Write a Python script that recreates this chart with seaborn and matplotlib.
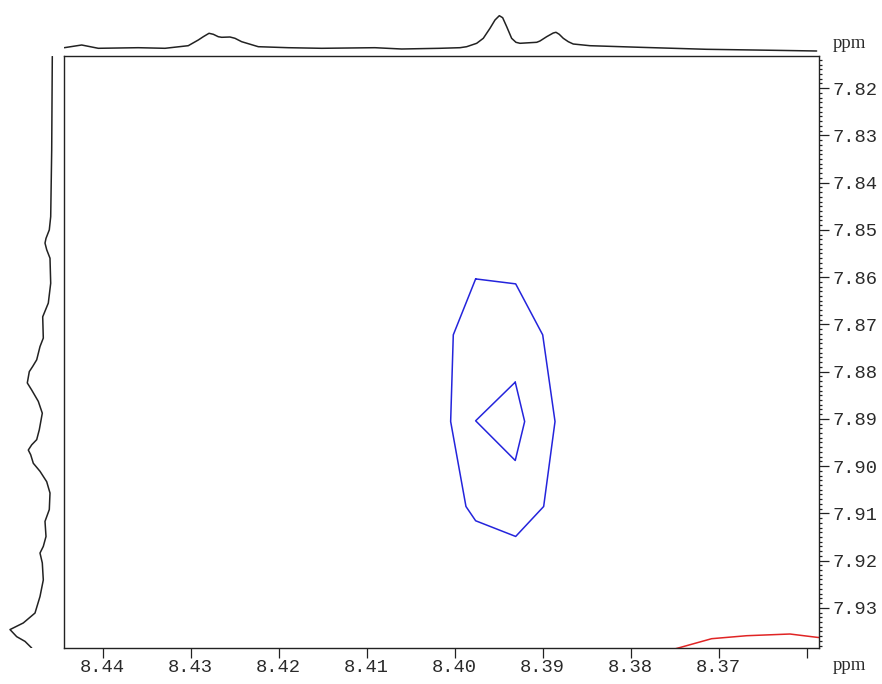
import matplotlib
matplotlib.use("Agg")
import matplotlib.pyplot as plt
from matplotlib.ticker import MultipleLocator, FuncFormatter, FormatStrFormatter
import seaborn as sns

# 1D projection along F2 (top trace): chemical shift (ppm) and intensity (a.u.)
top_ppm = [8.44435, 8.44237, 8.44048, 8.43594, 8.43290, 8.43026, 8.42912,
           8.42855, 8.42790, 8.42741, 8.42685, 8.42646, 8.42552, 8.42495,
           8.42419, 8.42230, 8.41889, 8.41510, 8.40904, 8.40601, 8.40165,
           8.39938, 8.39862, 8.39748, 8.39673, 8.39597, 8.39540, 8.39491,
           8.39453, 8.39407, 8.39351, 8.39302, 8.39256, 8.39066, 8.39029,
           8.38953, 8.38878, 8.38847, 8.38810, 8.38764, 8.38707, 8.38651,
           8.38461, 8.37893, 8.37135, 8.36378, 8.35885]
top_int = [7.3, 10.0, 6.7, 7.3, 6.7, 9.3, 15.0,
           18.3, 21.7, 20.7, 18.3, 17.7, 18.0, 16.7,
           13.3, 8.3, 7.3, 6.7, 7.3, 6.0, 6.7,
           7.3, 8.3, 11.7, 16.7, 26.7, 35.0, 39.3,
           37.3, 28.3, 16.7, 12.7, 11.7, 12.7, 14.0,
           18.3, 22.0, 22.7, 20.7, 16.7, 13.3, 11.0,
           9.3, 7.7, 5.7, 4.7, 4.0]

# 1D projection along F1 (left trace)
left_ppm = [7.8133, 7.8331, 7.8472, 7.8500, 7.8518, 7.8528, 7.8542, 7.8560,
            7.8613, 7.8655, 7.8684, 7.8729, 7.8747, 7.8775, 7.8789, 7.8800,
            7.8824, 7.8839, 7.8863, 7.8888, 7.8923, 7.8944, 7.8955, 7.8966,
            7.8976, 7.8994, 7.9011, 7.9033, 7.9057, 7.9092, 7.9117, 7.9149,
            7.9170, 7.9184, 7.9205, 7.9241, 7.9276, 7.9311, 7.9332, 7.9346,
            7.9361, 7.9371, 7.9385]
left_int = [2.7, 3.3, 4.3, 5.7, 9.0, 10.0, 8.3, 5.0,
            4.3, 6.7, 12.3, 11.7, 15.0, 18.3, 22.3, 25.7,
            27.7, 23.3, 16.7, 12.7, 15.7, 18.3, 23.3, 26.7,
            24.3, 21.7, 15.0, 8.3, 5.0, 5.7, 10.0, 9.0,
            11.7, 15.0, 12.7, 11.7, 15.0, 20.0, 31.7, 45.0,
            38.3, 30.0, 23.3]

# positive contour levels (blue)
outer_x = [8.39760, 8.39305, 8.38998, 8.38858, 8.38987, 8.39305, 8.39760,
           8.39870, 8.40044, 8.40014, 8.39760]
outer_y = [7.86038, 7.86143, 7.87222, 7.89056, 7.90855, 7.91489, 7.91157,
           7.90855, 7.89056, 7.87222, 7.86038]
inner_x = [8.39310, 8.39203, 8.39310, 8.39760, 8.39310]
inner_y = [7.88223, 7.89056, 7.89881, 7.89041, 7.88223]

# negative contour level (red), cut by the frame
neg_x = [8.37779, 8.37446, 8.37078, 8.36680, 8.36188, 8.35873, 8.35734]
neg_y = [7.94017, 7.93844, 7.93653, 7.93590, 7.93554, 7.93626, 7.93643]

x_range = (8.44438, 8.35858)
y_range = (7.9385, 7.8132)
hidden_x_labels = ["8.36"]

sns.set_style("white")
plt.rcParams["font.family"] = ["Liberation Mono", "DejaVu Sans"]

W, H = 882, 684
fig = plt.figure(figsize=(W / 100, H / 100), dpi=100)
ax = fig.add_axes([64 / W, 1 - 648 / H, 755 / W, 592 / H])
top = fig.add_axes([64 / W, 1 - 55 / H, 755 / W, 50 / H])
left = fig.add_axes([5 / W, 1 - 648 / H, 50 / W, 592 / H])

blue = "#2424dc"
sns.lineplot(x=outer_x, y=outer_y, sort=False, estimator=None, ax=ax,
             color=blue, linewidth=1.1)
sns.lineplot(x=inner_x, y=inner_y, sort=False, estimator=None, ax=ax,
             color=blue, linewidth=1.1)
sns.lineplot(x=neg_x, y=neg_y, sort=False, estimator=None, ax=ax,
             color="#e02424", linewidth=1.1)

ax.set_xlim(*x_range)
ax.set_ylim(*y_range)
ax.set_xlabel("")
ax.set_ylabel("")
for s in ax.spines.values():
    s.set_color("#222222")
    s.set_linewidth(1.0)


def x_label(v, pos):
    txt = f"{v:.2f}"
    return "" if txt in hidden_x_labels else txt


ax.xaxis.set_major_locator(MultipleLocator(0.01))
ax.xaxis.set_minor_locator(MultipleLocator(0.001))
ax.yaxis.set_major_locator(MultipleLocator(0.01))
ax.yaxis.set_minor_locator(MultipleLocator(0.001))
ax.xaxis.set_major_formatter(FuncFormatter(x_label))
ax.yaxis.set_major_formatter(FormatStrFormatter("%.2f"))
ax.yaxis.tick_right()
ax.tick_params(axis="both", which="both", direction="out", color="#222222",
               width=0.9)
ax.tick_params(axis="both", which="major", length=7.5,
               labelsize=13.5, labelcolor="#2a2a2a")
ax.tick_params(axis="both", which="minor", length=2.5)
ax.tick_params(axis="y", which="major", pad=2)
ax.tick_params(axis="x", which="major", pad=0.5)
ax.tick_params(axis="y", left=False, right=True)
ax.tick_params(axis="x", top=False, bottom=True)

sns.lineplot(x=top_ppm, y=top_int, sort=False, estimator=None, ax=top,
             color="#222222", linewidth=1.1)
top.set_xlim(*x_range)
top.set_ylim(0, 50)
top.axis("off")

sns.lineplot(x=left_int, y=left_ppm, sort=False, estimator=None, ax=left,
             color="#222222", linewidth=1.1, orient="y")
left.set_xlim(50, 0)
left.set_ylim(*y_range)
left.axis("off")

fig.text(849 / W, 1 - 665 / H, "ppm", family="Liberation Serif", fontsize=13.5,
         ha="center", va="center", color="#2a2a2a")
fig.text(849 / W, 1 - 44 / H, "ppm", family="Liberation Serif", fontsize=13.5,
         ha="center", va="center", color="#2a2a2a")

fig.savefig("out.png", dpi=100)
